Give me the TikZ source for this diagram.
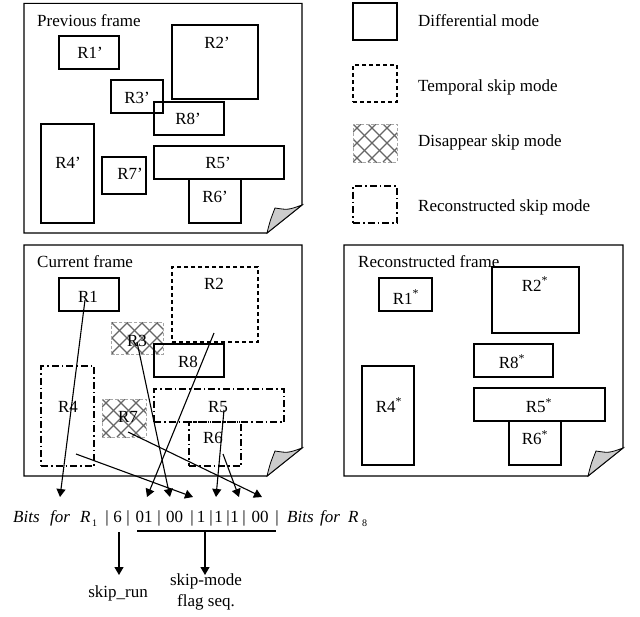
\documentclass[tikz,border=0pt]{standalone}
\usepackage{fontspec}
\setmainfont{Liberation Serif}
\usetikzlibrary{arrows.meta}
\newcommand\rbox[6]{\node[#1, minimum width={(#5-#3)*1pt}, minimum height={(#6-#4)*1pt}] (#2) at ({(#3+#5)/2},{(#4+#6)/2}) {};}
\newcommand\hatchrect[4]{%
  \begin{scope}
    \clip (#1,#2) rectangle (#3,#4);
    \foreach \k in {-60,-45,...,75}{
      \draw[hatch] ({#1+\k},#2) -- ++(70,70);
      \draw[hatch] ({#1+\k},#4) -- ++(70,-70);
    }
  \end{scope}}
\newcommand\pageframe[4]{%
  \draw[frame] (#1,#2) -- (#3,#2) -- (#3,{#4-28}) -- ({#3-35},#4) -- (#1,#4) -- cycle;
  \draw[fold] ({#3-35},#4) .. controls ({#3-32},{#4-12}) .. ({#3-27},{#4-25})
     .. controls ({#3-14},{#4-23}) .. (#3,{#4-28}) -- cycle;}
\begin{document}
\begin{tikzpicture}[x=1pt,y=-1pt,
  frame/.style={draw=black, line width=1.1pt, fill=white},
  fold/.style={draw=black, line width=0.8pt, fill=black!20},
  diff/.style={draw=black, line width=1.1pt, inner sep=0pt, outer sep=0pt},
  temp/.style={diff, dash pattern=on 4pt off 3pt},
  recon/.style={diff, dash pattern=on 7pt off 3pt on 1.5pt off 3pt},
  disap/.style={draw=black!35, dash pattern=on 3pt off 2pt, line width=0.6pt, inner sep=0pt, outer sep=0pt},
  hatch/.style={draw=black!60, line width=1.1pt},
  lbl/.style={font=\fontsize{17}{20}\selectfont, inner sep=0pt},
  eq/.style={font=\fontsize{17}{20}\selectfont, inner sep=0pt, anchor=base},
  eqi/.style={font=\fontsize{17}{20}\selectfont\itshape, inner sep=0pt, anchor=base west},
  sub/.style={font=\fontsize{10}{12}\selectfont, inner sep=0pt, anchor=base west},
  conn/.style={line width=1.1pt, -{Triangle[length=8pt,width=9pt]}},
  plain/.style={line width=1.1pt}]
\useasboundingbox (0,0) rectangle (640,616);

% ---------- Previous frame ----------
\pageframe{24}{3.3}{302}{233}
\node[lbl, anchor=west] (ptitle) at (37,21) {Previous frame};
\rbox{diff}{pR1}{59}{36}{119}{69}
\rbox{diff}{pR2}{172}{25}{258}{99}
\rbox{diff}{pR3}{111}{80}{163}{113}
\rbox{diff}{pR8}{154}{102}{224}{135}
\rbox{diff}{pR4}{41}{124}{94}{223}
\rbox{diff}{pR7}{102}{157}{146}{194}
\rbox{diff}{pR5}{154}{146}{284}{179}
\rbox{diff}{pR6}{189}{179}{241}{223}
\node[lbl] (pR1t) at (90,53) {R1’};
\node[lbl] (pR2t) at (217,43) {R2’};
\node[lbl] (pR3t) at (137,98) {R3’};
\node[lbl] (pR8t) at (188,119) {R8’};
\node[lbl] (pR4t) at (68,163) {R4’};
\node[lbl] (pR7t) at (130,174) {R7’};
\node[lbl] (pR5t) at (218,163) {R5’};
\node[lbl] (pR6t) at (215,197) {R6’};

% ---------- Legend ----------
\rbox{diff}{lg1}{353}{3}{397}{40}
\rbox{temp}{lg2}{353}{65}{397}{102}
\hatchrect{353}{124}{397}{162}
\rbox{disap}{lg3}{353}{124}{397}{162}
\rbox{recon}{lg4}{353}{186}{397}{223}
\node[lbl, anchor=west] (lg1t) at (418,21) {Differential mode};
\node[lbl, anchor=west] (lg2t) at (418,87) {Temporal skip mode};
\node[lbl, anchor=west] (lg3t) at (418,142) {Disappear skip mode};
\node[lbl, anchor=west] (lg4t) at (418,207) {Reconstructed skip mode};

% ---------- Current frame ----------
\pageframe{24}{245}{302}{476}
\node[lbl, anchor=west] (ctitle) at (37,262) {Current frame};
\rbox{diff}{cR1}{59}{278}{119}{311}
\rbox{temp}{cR2}{172}{267}{258}{342}
\hatchrect{111}{322}{163}{354}
\rbox{disap}{cR3}{111}{322}{163}{354}
\rbox{diff}{cR8}{154}{344}{224}{377}
\rbox{recon}{cR4}{41}{366}{94}{466}
\hatchrect{102}{399}{146}{437}
\rbox{disap}{cR7}{102}{399}{146}{437}
\rbox{recon}{cR5}{154}{389}{284}{422}
\rbox{recon}{cR6}{189}{422}{241}{466}
\node[lbl] (cR1t) at (88,297) {R1};
\node[lbl] (cR2t) at (214,284) {R2};
\node[lbl] (cR3t) at (137,341) {R3};
\node[lbl] (cR8t) at (188,362) {R8};
\node[lbl] (cR4t) at (68,407) {R4};
\node[lbl] (cR7t) at (128,417) {R7};
\node[lbl] (cR5t) at (218,407) {R5};
\node[lbl] (cR6t) at (213,438) {R6};

% ---------- Reconstructed frame ----------
\pageframe{344}{245}{623}{476}
\node[lbl, anchor=west] (rtitle) at (358,262) {Reconstructed frame};
\rbox{diff}{rR1}{379}{278}{432}{311}
\rbox{diff}{rR2}{492}{267}{579}{333}
\rbox{diff}{rR8}{474}{344}{553}{377}
\rbox{diff}{rR4}{362}{366}{414}{465}
\rbox{diff}{rR5}{474}{388}{605}{421}
\rbox{diff}{rR6}{509}{421}{561}{465}
\node[lbl] (rR1t) at (406,297) {R1\textsuperscript{*}};
\node[lbl] (rR2t) at (535,284) {R2\textsuperscript{*}};
\node[lbl] (rR8t) at (512,362) {R8\textsuperscript{*}};
\node[lbl] (rR4t) at (389,405) {R4\textsuperscript{*}};
\node[lbl] (rR5t) at (539,406) {R5\textsuperscript{*}};
\node[lbl] (rR6t) at (535,438) {R6\textsuperscript{*}};

% ---------- Bit stream ----------
\node[eqi] (b1) at (13,522) {Bits};
\node[eqi] (b2) at (50,522) {for};
\node[eqi] (b3) at (80,522) {R};
\node[sub] (b3s) at (92,526) {1};
\node[eq] (v1) at (107,522) {|};
\node[eq] (n6) at (117.5,522) {6};
\node[eq] (v2) at (128,522) {|};
\node[eq] (f1) at (144,522) {01};
\node[eq] (v3) at (159,522) {|};
\node[eq] (f2) at (174.5,522) {00};
\node[eq] (v4) at (192,522) {|};
\node[eq] (f3) at (201,522) {1};
\node[eq] (v5) at (211,522) {|};
\node[eq] (f4) at (218.5,522) {1};
\node[eq] (v6) at (228,522) {|};
\node[eq] (f5) at (234.5,522) {1};
\node[eq] (v7) at (244,522) {|};
\node[eq] (f6) at (260,522) {00};
\node[eq] (v8) at (277,522) {|};
\node[eqi] (b4) at (287,522) {Bits};
\node[eqi] (b5) at (320,522) {for};
\node[eqi] (b6) at (348,522) {R};
\node[sub] (b6s) at (362,526) {8};

% connector end points
\coordinate (s1) at (85,300);  \coordinate (t1) at (60,497);
\coordinate (s2) at (214,333); \coordinate (t2) at (147,497);
\coordinate (s3) at (137,342); \coordinate (t3) at (170,497);
\coordinate (s4) at (76,454);  \coordinate (t4) at (193,497);
\coordinate (s5) at (224,410); \coordinate (t5) at (216,497);
\coordinate (s6) at (223,454); \coordinate (t6) at (239,497);
\coordinate (s7) at (128,432); \coordinate (t7) at (262,497);
\draw[conn] (s1) -- (t1);
\draw[conn] (s2) -- (t2);
\draw[conn] (s3) -- (t3);
\draw[conn] (s4) -- (t4);
\draw[conn] (s5) -- (t5);
\draw[conn] (s6) -- (t6);
\draw[conn] (s7) -- (t7);

% ---------- Annotations ----------
\coordinate (hl) at (137,531); \coordinate (hr) at (276,531);
\coordinate (hm) at (205,531); \coordinate (hd) at (205,575);
\coordinate (ru) at (119,532); \coordinate (rd) at (119,575);
\draw[plain] (hl) -- (hr);
\draw[conn] (hm) -- (hd);
\draw[conn] (ru) -- (rd);
\node[lbl] (skiprun) at (118,593) {skip\_run};
\node[lbl, align=center] (skipmode) at (206,592) {skip-mode\\[1pt]flag seq.};
\end{tikzpicture}
\end{document}
